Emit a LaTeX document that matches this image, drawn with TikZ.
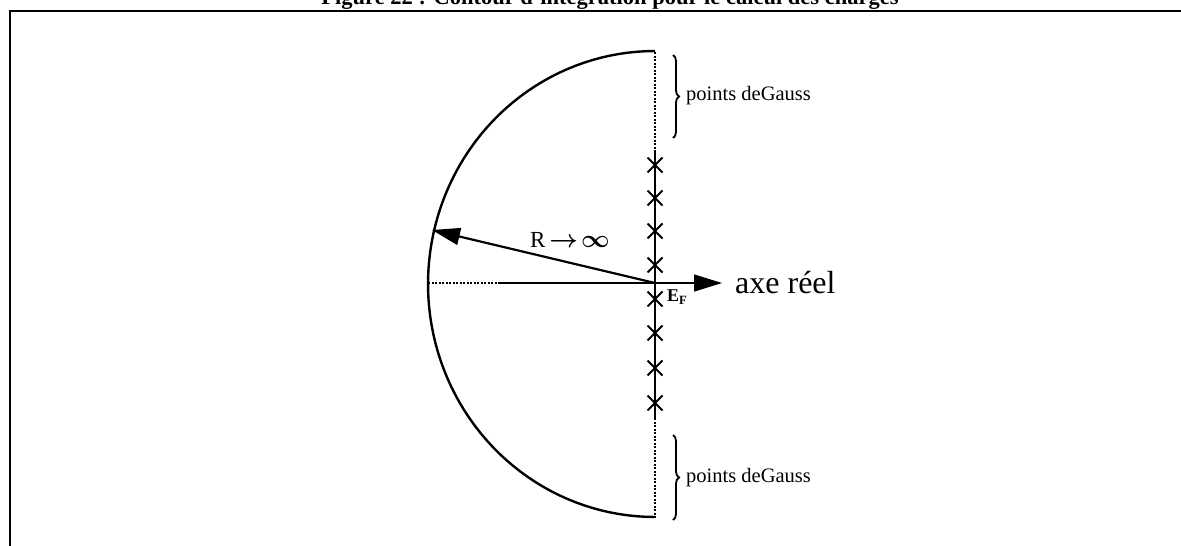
\documentclass[tikz,border=0pt]{standalone}
\usepackage{fontspec}
\setmainfont{Liberation Serif}
\usetikzlibrary{arrows.meta,decorations.pathreplacing,shapes.misc}
\tikzset{
  pole/.style={cross out, draw, line width=2pt, minimum size=13pt, inner sep=0pt},
  contour/.style={line width=2.4pt},
  dotline/.style={line width=1.4pt, dash pattern=on 2pt off 1.5pt},
  gaussbrace/.style={decorate, decoration={brace, amplitude=6pt}, line width=1.8pt},
  lbl/.style={font=\fontsize{20.5}{22}\selectfont, inner sep=0pt},
  bigarrow/.style={-{Triangle[length=28pt,width=17pt]}},
}
\begin{document}
\begin{tikzpicture}[x=1pt,y=-1pt]
\useasboundingbox (0,0) rectangle (1181,546);
% title (partly cut by the page edge)
\node[anchor=base, font=\bfseries\fontsize{22.5}{24}\selectfont, inner sep=0pt] (title) at (610,5) {Figure 22 : Contour d'intégration pour le calcul des charges};
% frame
\draw[line width=2.8pt] (10,546) -- (10,11) -- (1181,11);
% key points
\coordinate (O) at (655,283);
\coordinate (top) at (655,52);
\coordinate (bot) at (655,518);
\coordinate (vt) at (655,152);
\coordinate (vb) at (655,418);
\coordinate (left) at (428,283);
\coordinate (hl) at (500,283);
\coordinate (ax) at (722,283);
\coordinate (Rend) at (432,230);
% arc
\draw[contour] plot[domain=90:270, samples=80] ({655+227*cos(\x)}, {284-233*sin(\x)});
% vertical axis
\draw[dotline] (top) -- (vt);
\draw[line width=1.4pt] (vt) -- (vb);
\draw[dotline] (vb) -- (bot);
% horizontal axis
\draw[dotline] (left) -- (hl);
\draw[line width=1.3pt] (hl) -- (O);
\draw[line width=1.3pt, bigarrow] (O) -- (ax);
\node[anchor=west, font=\fontsize{32}{34}\selectfont, inner sep=0pt] (axe) at (735,283) {axe réel};
% radius
\draw[line width=2.2pt, bigarrow] (O) -- (Rend);
\node[lbl, font=\fontsize{23}{25}\selectfont] (R) at (570,240) {R\,{\boldmath$\rightarrow\!\infty$}};
% poles
\foreach \y [count=\i] in {165,198,231,265,299,333,368,403} {
  \node[pole] (p\i) at (655,\y) {};
}
\node[anchor=west, inner sep=0pt, font=\bfseries\fontsize{18}{19}\selectfont] (EF) at (667,297) {E\textsubscript{F}};
% Gauss points
\draw[gaussbrace] (673,55) -- (673,138);
\node[lbl, anchor=west] (g1) at (686,96) {points deGauss};
\draw[gaussbrace] (673,435) -- (673,520);
\node[lbl, anchor=west] (g2) at (686,478) {points deGauss};
\end{tikzpicture}
\end{document}
